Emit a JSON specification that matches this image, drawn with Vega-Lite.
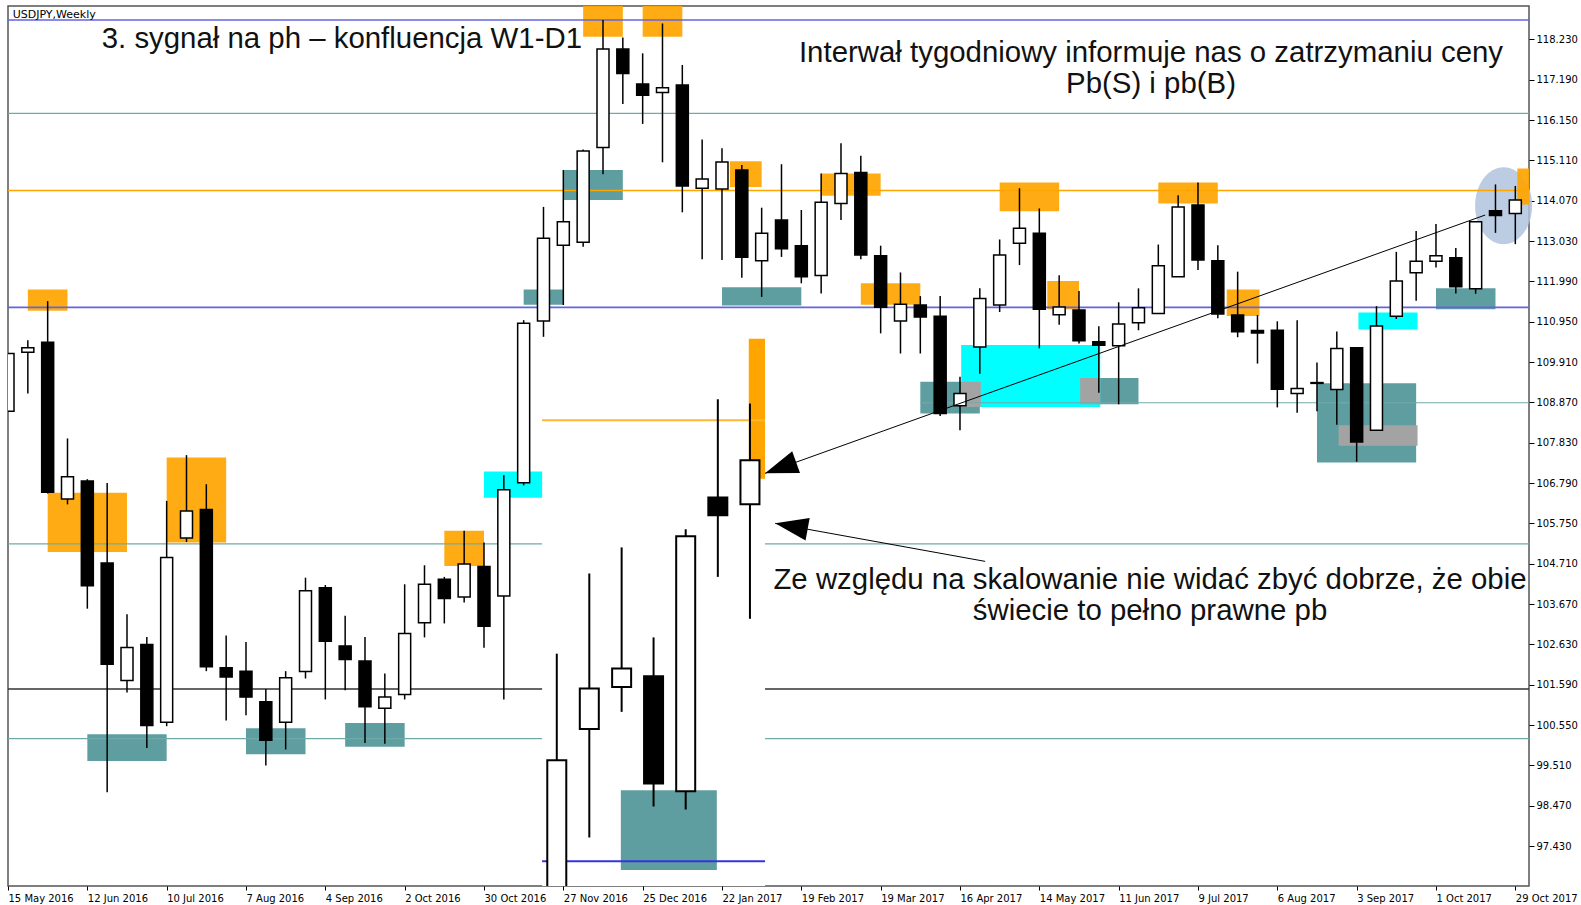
{
  "$schema": "https://vega.github.io/schema/vega-lite/v6.json",
  "width": 1521,
  "height": 880,
  "autosize": {"type": "none"},
  "padding": {"left": 8, "top": 6, "right": 52, "bottom": 19},
  "background": "white",
  "config": {
    "view": {"stroke": "#555555", "strokeWidth": 1.5},
    "scale": {"continuousPadding": 0},
    "axis": {"grid": false, "domain": false, "labelFont": "DejaVu Sans", "labelFontSize": 10, "labelColor": "#000000", "tickColor": "#000000", "labelOverlap": false, "labelFlush": false}
  },
  "datasets": {
    "weekly": [
      {"week": 0, "date": "2016-05-15", "open": 108.64, "high": 110.13, "low": 108.64, "close": 110.13},
      {"week": 1, "date": "2016-05-22", "open": 110.16, "high": 110.47, "low": 109.10, "close": 110.28},
      {"week": 2, "date": "2016-05-29", "open": 110.42, "high": 111.48, "low": 106.52, "close": 106.55},
      {"week": 3, "date": "2016-06-05", "open": 106.38, "high": 107.94, "low": 106.24, "close": 106.95},
      {"week": 4, "date": "2016-06-12", "open": 106.84, "high": 106.89, "low": 103.55, "close": 104.14},
      {"week": 5, "date": "2016-06-19", "open": 104.73, "high": 106.79, "low": 98.82, "close": 102.12},
      {"week": 6, "date": "2016-06-26", "open": 101.70, "high": 103.41, "low": 101.39, "close": 102.55},
      {"week": 7, "date": "2016-07-03", "open": 102.63, "high": 102.82, "low": 99.96, "close": 100.54},
      {"week": 8, "date": "2016-07-10", "open": 100.62, "high": 106.33, "low": 100.52, "close": 104.87},
      {"week": 9, "date": "2016-07-17", "open": 105.37, "high": 107.51, "low": 105.27, "close": 106.07},
      {"week": 10, "date": "2016-07-24", "open": 106.11, "high": 106.76, "low": 101.94, "close": 102.05},
      {"week": 11, "date": "2016-07-31", "open": 102.03, "high": 102.86, "low": 100.67, "close": 101.79},
      {"week": 12, "date": "2016-08-07", "open": 101.94, "high": 102.69, "low": 100.80, "close": 101.27},
      {"week": 13, "date": "2016-08-14", "open": 101.15, "high": 101.48, "low": 99.51, "close": 100.16},
      {"week": 14, "date": "2016-08-21", "open": 100.62, "high": 101.94, "low": 99.92, "close": 101.77},
      {"week": 15, "date": "2016-08-28", "open": 101.93, "high": 104.35, "low": 101.75, "close": 104.01},
      {"week": 16, "date": "2016-09-04", "open": 104.09, "high": 104.16, "low": 101.21, "close": 102.71},
      {"week": 17, "date": "2016-09-11", "open": 102.59, "high": 103.37, "low": 101.45, "close": 102.24},
      {"week": 18, "date": "2016-09-18", "open": 102.20, "high": 102.82, "low": 100.09, "close": 101.02},
      {"week": 19, "date": "2016-09-25", "open": 100.98, "high": 101.88, "low": 100.07, "close": 101.27},
      {"week": 20, "date": "2016-10-02", "open": 101.34, "high": 104.18, "low": 101.21, "close": 102.91},
      {"week": 21, "date": "2016-10-09", "open": 103.19, "high": 104.67, "low": 102.81, "close": 104.18},
      {"week": 22, "date": "2016-10-16", "open": 104.31, "high": 104.37, "low": 103.17, "close": 103.81},
      {"week": 23, "date": "2016-10-23", "open": 103.85, "high": 105.56, "low": 103.71, "close": 104.70},
      {"week": 24, "date": "2016-10-30", "open": 104.64, "high": 105.26, "low": 102.54, "close": 103.10},
      {"week": 25, "date": "2016-11-06", "open": 103.88, "high": 106.99, "low": 101.21, "close": 106.62},
      {"week": 26, "date": "2016-11-13", "open": 106.80, "high": 110.99, "low": 106.73, "close": 110.91},
      {"week": 27, "date": "2016-11-20", "open": 110.97, "high": 113.91, "low": 110.56, "close": 113.10},
      {"week": 28, "date": "2016-11-27", "open": 112.92, "high": 114.86, "low": 111.38, "close": 113.53},
      {"week": 29, "date": "2016-12-04", "open": 113.00, "high": 115.39, "low": 112.88, "close": 115.35},
      {"week": 30, "date": "2016-12-11", "open": 115.44, "high": 118.73, "low": 114.75, "close": 117.98},
      {"week": 31, "date": "2016-12-18", "open": 117.98, "high": 118.28, "low": 116.56, "close": 117.35},
      {"week": 32, "date": "2016-12-25", "open": 117.08, "high": 117.87, "low": 116.05, "close": 116.79},
      {"week": 33, "date": "2017-01-01", "open": 116.86, "high": 118.64, "low": 115.06, "close": 116.98},
      {"week": 34, "date": "2017-01-08", "open": 117.05, "high": 117.57, "low": 113.77, "close": 114.45},
      {"week": 35, "date": "2017-01-15", "open": 114.39, "high": 115.65, "low": 112.56, "close": 114.63},
      {"week": 36, "date": "2017-01-22", "open": 114.37, "high": 115.42, "low": 112.54, "close": 115.07},
      {"week": 37, "date": "2017-01-29", "open": 114.86, "high": 114.99, "low": 112.08, "close": 112.61},
      {"week": 38, "date": "2017-02-05", "open": 112.52, "high": 113.89, "low": 111.59, "close": 113.23},
      {"week": 39, "date": "2017-02-12", "open": 113.57, "high": 115.01, "low": 112.62, "close": 112.83},
      {"week": 40, "date": "2017-02-19", "open": 112.91, "high": 113.83, "low": 111.94, "close": 112.11},
      {"week": 41, "date": "2017-02-26", "open": 112.14, "high": 114.77, "low": 111.68, "close": 114.03},
      {"week": 42, "date": "2017-03-05", "open": 114.00, "high": 115.55, "low": 113.57, "close": 114.77},
      {"week": 43, "date": "2017-03-12", "open": 114.80, "high": 115.23, "low": 112.56, "close": 112.67},
      {"week": 44, "date": "2017-03-19", "open": 112.65, "high": 112.91, "low": 110.65, "close": 111.32},
      {"week": 45, "date": "2017-03-26", "open": 110.97, "high": 112.22, "low": 110.13, "close": 111.40},
      {"week": 46, "date": "2017-04-02", "open": 111.38, "high": 111.61, "low": 110.13, "close": 111.07},
      {"week": 47, "date": "2017-04-09", "open": 111.09, "high": 111.61, "low": 108.52, "close": 108.58},
      {"week": 48, "date": "2017-04-16", "open": 108.78, "high": 109.53, "low": 108.15, "close": 109.10},
      {"week": 49, "date": "2017-04-23", "open": 110.30, "high": 111.81, "low": 109.61, "close": 111.55},
      {"week": 50, "date": "2017-04-30", "open": 111.38, "high": 113.07, "low": 111.20, "close": 112.67},
      {"week": 51, "date": "2017-05-07", "open": 112.97, "high": 114.39, "low": 112.41, "close": 113.36},
      {"week": 52, "date": "2017-05-14", "open": 113.23, "high": 113.87, "low": 110.26, "close": 111.27},
      {"week": 53, "date": "2017-05-21", "open": 111.13, "high": 112.15, "low": 110.87, "close": 111.33},
      {"week": 54, "date": "2017-05-28", "open": 111.25, "high": 111.74, "low": 110.39, "close": 110.46},
      {"week": 55, "date": "2017-06-04", "open": 110.43, "high": 110.83, "low": 109.12, "close": 110.34},
      {"week": 56, "date": "2017-06-11", "open": 110.33, "high": 111.45, "low": 108.82, "close": 110.89},
      {"week": 57, "date": "2017-06-18", "open": 110.92, "high": 111.81, "low": 110.73, "close": 111.31},
      {"week": 58, "date": "2017-06-25", "open": 111.16, "high": 112.94, "low": 111.16, "close": 112.39},
      {"week": 59, "date": "2017-07-02", "open": 112.11, "high": 114.21, "low": 112.11, "close": 113.91},
      {"week": 60, "date": "2017-07-09", "open": 113.96, "high": 114.54, "low": 112.28, "close": 112.54},
      {"week": 61, "date": "2017-07-16", "open": 112.52, "high": 112.92, "low": 111.04, "close": 111.15},
      {"week": 62, "date": "2017-07-23", "open": 111.12, "high": 112.24, "low": 110.55, "close": 110.69},
      {"week": 63, "date": "2017-07-30", "open": 110.72, "high": 111.12, "low": 109.87, "close": 110.66},
      {"week": 64, "date": "2017-08-06", "open": 110.73, "high": 110.96, "low": 108.74, "close": 109.21},
      {"week": 65, "date": "2017-08-13", "open": 109.10, "high": 110.99, "low": 108.60, "close": 109.23},
      {"week": 66, "date": "2017-08-20", "open": 109.38, "high": 109.90, "low": 108.64, "close": 109.36},
      {"week": 67, "date": "2017-08-27", "open": 109.20, "high": 110.70, "low": 108.29, "close": 110.26},
      {"week": 68, "date": "2017-09-03", "open": 110.28, "high": 110.28, "low": 107.34, "close": 107.85},
      {"week": 69, "date": "2017-09-10", "open": 108.15, "high": 111.35, "low": 108.15, "close": 110.84},
      {"week": 70, "date": "2017-09-17", "open": 111.09, "high": 112.75, "low": 111.02, "close": 112.00},
      {"week": 71, "date": "2017-09-24", "open": 112.21, "high": 113.29, "low": 111.49, "close": 112.51},
      {"week": 72, "date": "2017-10-01", "open": 112.51, "high": 113.47, "low": 112.35, "close": 112.65},
      {"week": 73, "date": "2017-10-08", "open": 112.60, "high": 112.85, "low": 111.68, "close": 111.85},
      {"week": 74, "date": "2017-10-15", "open": 111.80, "high": 113.53, "low": 111.67, "close": 113.53},
      {"week": 75, "date": "2017-10-22", "open": 113.81, "high": 114.49, "low": 113.24, "close": 113.69},
      {"week": 76, "date": "2017-10-29", "open": 113.74, "high": 114.45, "low": 112.95, "close": 114.09}
    ],
    "daily": [
      {"week": 27.67, "open": 96.0, "high": 102.39, "low": 96.0, "close": 99.64},
      {"week": 29.31, "open": 100.45, "high": 104.46, "low": 97.65, "close": 101.49},
      {"week": 30.94, "open": 101.53, "high": 105.13, "low": 100.89, "close": 102.01},
      {"week": 32.55, "open": 101.81, "high": 102.81, "low": 98.45, "close": 99.04},
      {"week": 34.17, "open": 98.84, "high": 105.60, "low": 98.37, "close": 105.42},
      {"week": 35.79, "open": 106.42, "high": 108.95, "low": 104.37, "close": 105.96},
      {"week": 37.41, "open": 106.24, "high": 108.84, "low": 103.29, "close": 107.38}
    ],
    "zones_teal": [
      {"from": 4, "to": 8, "low": 99.62, "high": 100.31},
      {"from": 12, "to": 15, "low": 99.80, "high": 100.47},
      {"from": 17, "to": 20, "low": 99.99, "high": 100.60},
      {"from": 26, "to": 28, "low": 111.39, "high": 111.78},
      {"from": 28, "to": 31, "low": 114.09, "high": 114.86},
      {"from": 36, "to": 40, "low": 111.37, "high": 111.84},
      {"from": 46, "to": 49, "low": 108.58, "high": 109.40},
      {"from": 54, "to": 57, "low": 108.82, "high": 109.50},
      {"from": 66, "to": 71, "low": 107.32, "high": 109.36},
      {"from": 72, "to": 75, "low": 111.27, "high": 111.81}
    ],
    "zones_cyan": [
      {"from": 24, "to": 27, "low": 106.41, "high": 107.09},
      {"from": 48.06, "to": 55.07, "low": 108.75, "high": 110.35},
      {"from": 68.09, "to": 71.07, "low": 110.75, "high": 111.19}
    ],
    "zones_grey": [
      {"from": 48.06, "to": 49.05, "low": 108.75, "high": 109.40},
      {"from": 54.06, "to": 55.07, "low": 108.82, "high": 109.50},
      {"from": 67.09, "to": 71.07, "low": 107.75, "high": 108.28}
    ],
    "zones_orange": [
      {"from": 1, "to": 3, "low": 111.23, "high": 111.78},
      {"from": 2, "to": 6, "low": 105.01, "high": 106.54},
      {"from": 8, "to": 11, "low": 105.26, "high": 107.45},
      {"from": 22, "to": 24, "low": 104.65, "high": 105.56},
      {"from": 29, "to": 31, "low": 118.30, "high": 119.2},
      {"from": 32, "to": 34, "low": 118.30, "high": 119.2},
      {"from": 36.4, "to": 38, "low": 114.42, "high": 115.09},
      {"from": 41, "to": 44, "low": 114.20, "high": 114.77},
      {"from": 43, "to": 46, "low": 111.39, "high": 111.94},
      {"from": 50, "to": 53, "low": 113.80, "high": 114.54},
      {"from": 52.4, "to": 54, "low": 111.27, "high": 112.00},
      {"from": 58, "to": 61, "low": 114.00, "high": 114.54},
      {"from": 61.45, "to": 63.1, "low": 111.10, "high": 111.78},
      {"from": 76.1, "to": 77, "low": 113.97, "high": 114.90}
    ],
    "lines_teal": [
      {"price": 116.32, "from": 0, "to": 76.69},
      {"price": 108.86, "from": 46, "to": 76.69},
      {"price": 105.22, "from": 0, "to": 76.69},
      {"price": 100.20, "from": 0, "to": 76.69}
    ],
    "lines_blue": [
      {"price": 118.73, "from": 0, "to": 76.69},
      {"price": 111.32, "from": 0, "to": 76.69}
    ],
    "lines_orange": [
      {"price": 114.335, "from": 0, "to": 76.69}
    ],
    "lines_dark": [
      {"price": 101.48, "from": 0, "to": 76.69}
    ],
    "inset": [
      {"from": 26.93, "to": 38.17, "low": 96.0, "high": 110.52}
    ],
    "inset_teal": [
      {"from": 30.9, "to": 35.74, "low": 96.81, "high": 98.87}
    ],
    "inset_orange": [
      {"from": 37.35, "to": 38.17, "low": 106.90, "high": 110.51}
    ],
    "inset_line_orange": [
      {"price": 108.41, "from": 26.93, "to": 38.17}
    ],
    "inset_line_blue": [
      {"price": 97.04, "from": 26.93, "to": 38.17}
    ],
    "circle": [
      {"week": 75.41, "price": 113.94}
    ],
    "arrow_lines": [
      {"from": 74.48, "fromPrice": 113.70, "to": 38.17, "toPrice": 107.04},
      {"from": 49.27, "fromPrice": 104.77, "to": 38.68, "toPrice": 105.75}
    ],
    "arrow_tip_1": [
      {"week": 38.17, "price": 107.04}
    ],
    "arrow_tip_2": [
      {"week": 38.68, "price": 105.75}
    ],
    "symbol_label": [
      {"week": 0.237, "price": 118.85, "text": "USDJPY,Weekly"}
    ],
    "title_left": [
      {"week": 4.725, "price": 118.01, "text": "3. sygnał na ph – konfluencja W1-D1"}
    ],
    "notes": [
      {"week": 57.63, "price": 117.652, "text": "Interwał tygodniowy informuje nas o zatrzymaniu ceny"},
      {"week": 57.63, "price": 116.837, "text": "Pb(S) i pb(B)"},
      {"week": 57.58, "price": 104.07, "text": "Ze względu na skalowanie nie widać zbyć dobrze, że obie"},
      {"week": 57.58, "price": 103.25, "text": "świecie to pełno prawne pb"}
    ]
  },
  "layer": [
    {
      "data": {"name": "circle"},
      "mark": {"type": "point", "shape": "M 1 0 C 1 0.7456 0.5523 1.35 0 1.35 C -0.5523 1.35 -1 0.7456 -1 0 C -1 -0.7456 -0.5523 -1.35 0 -1.35 C 0.5523 -1.35 1 -0.7456 1 0 Z", "size": 3249, "filled": true, "fill": "#B0C4DE", "opacity": 0.85, "strokeWidth": 0},
      "encoding": {
        "x": {"field": "week", "type": "quantitative", "title": null,
          "scale": {"domain": [0, 76.69], "nice": false, "zero": false, "padding": 0},
          "axis": {"title": null, "orient": "bottom", "values": [0, 4, 8, 12, 16, 20, 24, 28, 32, 36, 40, 44, 48, 52, 56, 60, 64, 68, 72, 76],
            "labelExpr": "timeFormat(datetime(2016, 4, 15 + 7 * datum.value), '%-d %b %Y')",
            "labelAlign": "left", "labelBaseline": "top", "tickSize": 4, "labelPadding": 3}},
        "y": {"field": "price", "type": "quantitative", "title": null,
          "scale": {"domain": [96.4, 119.09], "nice": false, "zero": false, "padding": 0},
          "axis": {"title": null, "orient": "right", "values": [97.43, 98.47, 99.51, 100.55, 101.59, 102.63, 103.67, 104.71, 105.75, 106.79, 107.83, 108.87, 109.91, 110.95, 111.99, 113.03, 114.07, 115.11, 116.15, 117.19, 118.23],
            "format": ".3f", "tickSize": 5, "labelPadding": 2, "labelBaseline": "middle"}}
      }
    },
    {
      "data": {"name": "zones_teal"},
      "mark": {"type": "rect", "color": "#5F9EA0", "clip": true},
      "encoding": {"x": {"field": "from", "type": "quantitative", "title": null}, "x2": {"field": "to"}, "y": {"field": "low", "type": "quantitative", "title": null}, "y2": {"field": "high"}}
    },
    {
      "data": {"name": "zones_cyan"},
      "mark": {"type": "rect", "color": "#00FFFF", "clip": true},
      "encoding": {"x": {"field": "from", "type": "quantitative", "title": null}, "x2": {"field": "to"}, "y": {"field": "low", "type": "quantitative", "title": null}, "y2": {"field": "high"}}
    },
    {
      "data": {"name": "zones_grey"},
      "mark": {"type": "rect", "color": "#A3A3A3", "clip": true},
      "encoding": {"x": {"field": "from", "type": "quantitative", "title": null}, "x2": {"field": "to"}, "y": {"field": "low", "type": "quantitative", "title": null}, "y2": {"field": "high"}}
    },
    {
      "data": {"name": "zones_orange"},
      "mark": {"type": "rect", "color": "#FFA500", "opacity": 0.92, "clip": true},
      "encoding": {"x": {"field": "from", "type": "quantitative", "title": null}, "x2": {"field": "to"}, "y": {"field": "low", "type": "quantitative", "title": null}, "y2": {"field": "high"}}
    },
    {
      "data": {"name": "lines_teal"},
      "mark": {"type": "rule", "color": "#6FAAAA", "strokeWidth": 1.2, "clip": true},
      "encoding": {"x": {"field": "from", "type": "quantitative", "title": null}, "x2": {"field": "to"}, "y": {"field": "price", "type": "quantitative", "title": null}}
    },
    {
      "data": {"name": "lines_blue"},
      "mark": {"type": "rule", "color": "#6464DC", "strokeWidth": 1.6, "clip": true},
      "encoding": {"x": {"field": "from", "type": "quantitative", "title": null}, "x2": {"field": "to"}, "y": {"field": "price", "type": "quantitative", "title": null}}
    },
    {
      "data": {"name": "lines_orange"},
      "mark": {"type": "rule", "color": "#FFA500", "strokeWidth": 1.5, "clip": true},
      "encoding": {"x": {"field": "from", "type": "quantitative", "title": null}, "x2": {"field": "to"}, "y": {"field": "price", "type": "quantitative", "title": null}}
    },
    {
      "data": {"name": "lines_dark"},
      "mark": {"type": "rule", "color": "#333333", "strokeWidth": 1.5, "clip": true},
      "encoding": {"x": {"field": "from", "type": "quantitative", "title": null}, "x2": {"field": "to"}, "y": {"field": "price", "type": "quantitative", "title": null}}
    },
    {
      "data": {"name": "weekly"},
      "mark": {"type": "rule", "color": "#000000", "strokeWidth": 1.5, "clip": true},
      "encoding": {"x": {"field": "week", "type": "quantitative", "title": null}, "y": {"field": "low", "type": "quantitative", "title": null}, "y2": {"field": "high"}}
    },
    {
      "data": {"name": "weekly"},
      "mark": {"type": "bar", "orient": "vertical", "size": 12, "stroke": "#000000", "strokeWidth": 1.5, "clip": true},
      "encoding": {
        "x": {"field": "week", "type": "quantitative", "title": null},
        "y": {"field": "open", "type": "quantitative", "title": null},
        "y2": {"field": "close"},
        "fill": {"condition": {"test": "datum.close > datum.open", "value": "#FFFFFF"}, "value": "#000000"}
      }
    },
    {
      "data": {"name": "inset"},
      "mark": {"type": "rect", "color": "#FFFFFF", "clip": true},
      "encoding": {"x": {"field": "from", "type": "quantitative", "title": null}, "x2": {"field": "to"}, "y": {"field": "low", "type": "quantitative", "title": null}, "y2": {"field": "high"}}
    },
    {
      "data": {"name": "inset_teal"},
      "mark": {"type": "rect", "color": "#5F9EA0", "clip": true},
      "encoding": {"x": {"field": "from", "type": "quantitative", "title": null}, "x2": {"field": "to"}, "y": {"field": "low", "type": "quantitative", "title": null}, "y2": {"field": "high"}}
    },
    {
      "data": {"name": "inset_orange"},
      "mark": {"type": "rect", "color": "#FFA500", "clip": true},
      "encoding": {"x": {"field": "from", "type": "quantitative", "title": null}, "x2": {"field": "to"}, "y": {"field": "low", "type": "quantitative", "title": null}, "y2": {"field": "high"}}
    },
    {
      "data": {"name": "inset_line_orange"},
      "mark": {"type": "rule", "color": "#FFB733", "strokeWidth": 2, "clip": true},
      "encoding": {"x": {"field": "from", "type": "quantitative", "title": null}, "x2": {"field": "to"}, "y": {"field": "price", "type": "quantitative", "title": null}}
    },
    {
      "data": {"name": "inset_line_blue"},
      "mark": {"type": "rule", "color": "#3535D8", "strokeWidth": 2, "clip": true},
      "encoding": {"x": {"field": "from", "type": "quantitative", "title": null}, "x2": {"field": "to"}, "y": {"field": "price", "type": "quantitative", "title": null}}
    },
    {
      "data": {"name": "daily"},
      "mark": {"type": "rule", "color": "#000000", "strokeWidth": 2, "clip": true},
      "encoding": {"x": {"field": "week", "type": "quantitative", "title": null}, "y": {"field": "low", "type": "quantitative", "title": null}, "y2": {"field": "high"}}
    },
    {
      "data": {"name": "daily"},
      "mark": {"type": "bar", "orient": "vertical", "size": 19, "stroke": "#000000", "strokeWidth": 2, "clip": true},
      "encoding": {
        "x": {"field": "week", "type": "quantitative", "title": null},
        "y": {"field": "open", "type": "quantitative", "title": null},
        "y2": {"field": "close"},
        "fill": {"condition": {"test": "datum.close > datum.open", "value": "#FFFFFF"}, "value": "#000000"}
      }
    },
    {
      "data": {"name": "arrow_lines"},
      "mark": {"type": "rule", "color": "#000000", "strokeWidth": 1, "clip": true},
      "encoding": {"x": {"field": "from", "type": "quantitative", "title": null}, "x2": {"field": "to"}, "y": {"field": "fromPrice", "type": "quantitative", "title": null}, "y2": {"field": "toPrice"}}
    },
    {
      "data": {"name": "arrow_tip_1"},
      "mark": {"type": "point", "shape": "M 0 0 L 2 -0.7 L 2 0.7 Z", "size": 1089, "angle": -19.7, "filled": true, "fill": "#000000", "opacity": 1, "strokeWidth": 0},
      "encoding": {"x": {"field": "week", "type": "quantitative", "title": null}, "y": {"field": "price", "type": "quantitative", "title": null}}
    },
    {
      "data": {"name": "arrow_tip_2"},
      "mark": {"type": "point", "shape": "M 0 0 L 2 -0.7 L 2 0.7 Z", "size": 1089, "angle": 10.25, "filled": true, "fill": "#000000", "opacity": 1, "strokeWidth": 0},
      "encoding": {"x": {"field": "week", "type": "quantitative", "title": null}, "y": {"field": "price", "type": "quantitative", "title": null}}
    },
    {
      "data": {"name": "symbol_label"},
      "mark": {"type": "text", "font": "DejaVu Sans", "fontSize": 11, "align": "left", "baseline": "middle", "color": "#000000"},
      "encoding": {"x": {"field": "week", "type": "quantitative", "title": null}, "y": {"field": "price", "type": "quantitative", "title": null}, "text": {"field": "text"}}
    },
    {
      "data": {"name": "title_left"},
      "mark": {"type": "text", "font": "Liberation Sans", "fontSize": 29.4, "align": "left", "baseline": "alphabetic", "color": "#111111"},
      "encoding": {"x": {"field": "week", "type": "quantitative", "title": null}, "y": {"field": "price", "type": "quantitative", "title": null}, "text": {"field": "text"}}
    },
    {
      "data": {"name": "notes"},
      "mark": {"type": "text", "font": "Liberation Sans", "fontSize": 29.4, "align": "center", "baseline": "alphabetic", "color": "#111111"},
      "encoding": {"x": {"field": "week", "type": "quantitative", "title": null}, "y": {"field": "price", "type": "quantitative", "title": null}, "text": {"field": "text"}}
    }
  ]
}
